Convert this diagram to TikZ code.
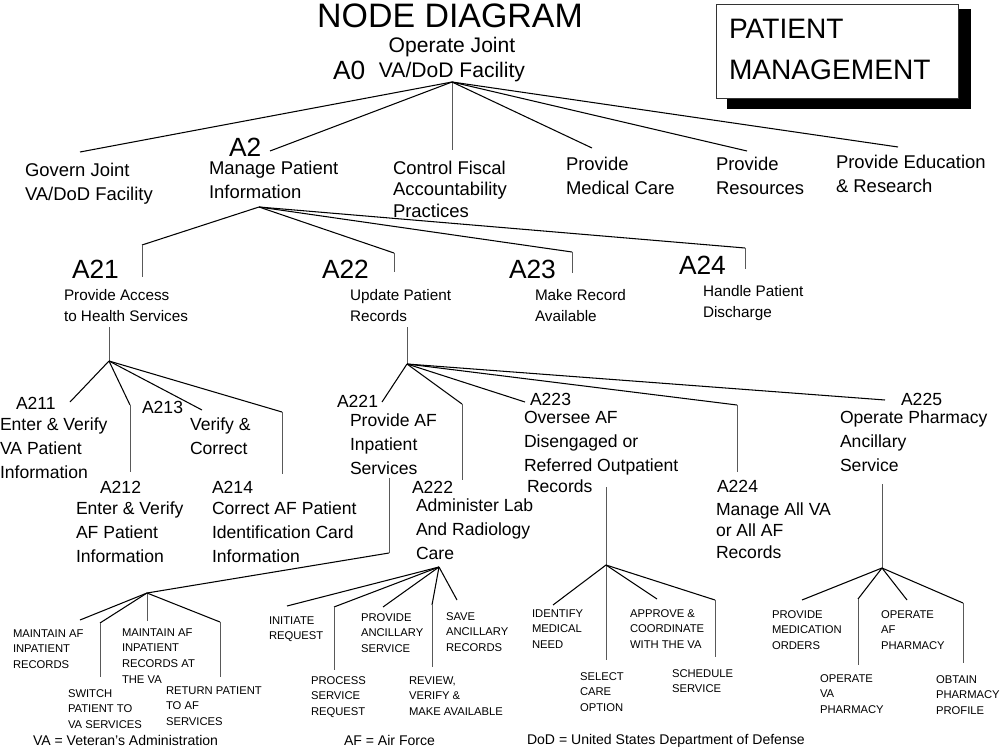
\documentclass[tikz,border=0pt]{standalone}
\usepackage{fontspec}
\setmainfont{Liberation Sans}
\newcommand{\Lines}[1]{\vtop{\halign{##\hfil\cr#1\crcr}}}
\newcommand{\CLines}[1]{\vtop{\halign{\hfil##\hfil\cr#1\crcr}}}
\tikzset{
  lbl/.style={anchor=base west, inner sep=0pt, outer sep=0pt},
  big/.style={lbl, font=\fontsize{15}{18}\selectfont},
  tone/.style={lbl, font=\fontsize{10.5}{13.7}\selectfont},
  ttwo/.style={lbl, font=\fontsize{8.7}{12}\selectfont},
  tthree/.style={lbl, font=\fontsize{10}{13.7}\selectfont},
  tfour/.style={lbl, font=\fontsize{6.4}{9.1}\selectfont},
  note/.style={lbl, font=\fontsize{8}{10}\selectfont},
  ln/.style={line width=0.6pt, black},
  vl/.style={line width=0.45pt, black!65},
}
\begin{document}
\begin{tikzpicture}[x=0.02cm,y=-0.02cm]
\useasboundingbox (0,0) rectangle (1000,750);

% ---------- title and box ----------
\node[anchor=base, inner sep=0pt, font=\fontsize{19.3}{22}\selectfont] (title) at (450,28) {NODE DIAGRAM};
\fill[black] (727,9) rectangle (971,109);
\draw[draw=black!80, fill=white, line width=0.5pt] (716,4) rectangle (958,98);
\node[lbl, font=\fontsize{16}{23.3}\selectfont] (pm) at (729,39) {\Lines{PATIENT\cr MANAGEMENT}};

% ---------- A0 ----------
\node[anchor=base, inner sep=0pt, font=\fontsize{12}{13.7}\selectfont] (a0t) at (452,53) {\CLines{Operate Joint\cr VA/DoD Facility}};
\node[big] (a0) at (333,80) {A0};

% ---------- level 1 ----------
\node[tone] (n1) at (25,176) {\Lines{Govern Joint\cr VA/DoD Facility}};
\node[big] (a2) at (229,156) {A2};
\node[tone] (n2) at (209,174) {\Lines{Manage Patient\cr Information}};
\node[lbl, font=\fontsize{10.5}{12.4}\selectfont] (n3) at (393,174) {\Lines{Control Fiscal\cr Accountability\cr Practices}};
\node[tone] (n4) at (566,170) {\Lines{Provide\cr Medical Care}};
\node[tone] (n5) at (716,170) {\Lines{Provide\cr Resources}};
\node[tone] (n6) at (836,168) {\Lines{Provide Education\cr \& Research}};

\coordinate (r0) at (452,82);
\coordinate (e1) at (80,152);
\coordinate (e2) at (270,151);
\coordinate (e3) at (452,150);
\coordinate (e4) at (592,148);
\coordinate (e5) at (747,151);
\coordinate (e6) at (898,147);
\draw[ln] (r0) -- (e1);
\draw[ln] (r0) -- (e2);
\draw[vl] (r0) -- (e3);
\draw[ln] (r0) -- (e4);
\draw[ln] (r0) -- (e5);
\draw[ln] (r0) -- (e6);

% ---------- level 2 ----------
\node[big] (a21) at (72,278) {A21};
\node[ttwo] (n21) at (64,300) {\Lines{Provide Access\cr to Health Services}};
\node[big] (a22) at (322,278) {A22};
\node[ttwo] (n22) at (350,300) {\Lines{Update Patient\cr Records}};
\node[big] (a23) at (509,278) {A23};
\node[ttwo] (n23) at (535,300) {\Lines{Make Record\cr Available}};
\node[big] (a24) at (679,274) {A24};
\node[ttwo] (n24) at (703,296) {\Lines{Handle Patient\cr Discharge}};

\coordinate (r2) at (259,207);
\coordinate (f21) at (142,245); \coordinate (g21) at (142,277);
\coordinate (f22) at (394,253); \coordinate (g22) at (394,272);
\coordinate (f23) at (572,252); \coordinate (g23) at (572,273);
\coordinate (f24) at (745,248); \coordinate (g24) at (745,269);
\draw[ln] (r2) -- (f21); \draw[vl] (f21) -- (g21);
\draw[ln] (r2) -- (f22); \draw[vl] (f22) -- (g22);
\draw[ln] (r2) -- (f23); \draw[vl] (f23) -- (g23);
\draw[ln] (r2) -- (f24); \draw[vl] (f24) -- (g24);

% ---------- level 3 : A21 ----------
\node[tthree] (a211) at (16,409) {A211};
\node[tthree] (n211) at (0,430) {\Lines{Enter \& Verify\cr VA Patient\cr Information}};
\node[tthree] (a212) at (100,493) {A212};
\node[tthree] (n212) at (76,514) {\Lines{Enter \& Verify\cr AF Patient\cr Information}};
\node[tthree] (a213) at (142,413) {A213};
\node[tthree] (n213) at (190,430) {\Lines{Verify \&\cr Correct}};
\node[tthree] (a214) at (212,493) {A214};
\node[tthree] (n214) at (212,514) {\Lines{Correct AF Patient\cr Identification Card\cr Information}};

\coordinate (t21) at (109,327);
\coordinate (r21) at (109,361);
\coordinate (h211) at (70,402);
\coordinate (h212) at (130,405); \coordinate (k212) at (130,472);
\coordinate (h213) at (202,410);
\coordinate (h214) at (282,412); \coordinate (k214) at (282,474);
\draw[vl] (t21) -- (r21);
\draw[ln] (r21) -- (h211);
\draw[ln] (r21) -- (h212); \draw[vl] (h212) -- (k212);
\draw[ln] (r21) -- (h213);
\draw[ln] (r21) -- (h214); \draw[vl] (h214) -- (k214);

% ---------- level 3 : A22 ----------
\node[tthree] (a221) at (337,407) {A221};
\node[tthree] (n221) at (350,426) {\Lines{Provide AF\cr Inpatient\cr Services}};
\node[tthree] (a222) at (412,493) {A222};
\node[tthree] (n222) at (416,511) {\Lines{Administer Lab\cr And Radiology\cr Care}};
\node[tthree] (a223) at (530,405) {A223};
\node[tthree] (n223) at (524,423) {\Lines{Oversee AF\cr Disengaged or\cr Referred Outpatient}};
\node[tthree] (n223b) at (527,492) {Records};
\node[tthree] (a224) at (717,492) {A224};
\node[lbl, font=\fontsize{10}{12.3}\selectfont] (n224) at (716,515) {\Lines{Manage All VA\cr or All AF\cr Records}};
\node[tthree] (a225) at (901,405) {A225};
\node[tthree] (n225) at (840,423) {\Lines{Operate Pharmacy\cr Ancillary\cr Service}};

\coordinate (t22) at (407,327);
\coordinate (r22) at (407,364);
\coordinate (h221) at (382,402);
\coordinate (h222) at (462,404); \coordinate (k222) at (462,480);
\coordinate (h223) at (525,402);
\coordinate (h224) at (737,405); \coordinate (k224) at (737,472);
\coordinate (h225) at (885,400);
\draw[vl] (t22) -- (r22);
\draw[ln] (r22) -- (h221);
\draw[ln] (r22) -- (h222); \draw[vl] (h222) -- (k222);
\draw[ln] (r22) -- (h223);
\draw[ln] (r22) -- (h224); \draw[vl] (h224) -- (k224);
\draw[ln] (r22) -- (h225);

% ---------- level 4 : A221 ----------
\node[tfour] (m1) at (13,637) {\Lines{MAINTAIN AF\cr INPATIENT\cr RECORDS}};
\node[tfour] (m2) at (122,636) {\Lines{MAINTAIN AF\cr INPATIENT\cr RECORDS AT\cr THE VA}};
\node[tfour] (m3) at (68,697) {\Lines{SWITCH\cr PATIENT TO\cr VA SERVICES}};
\node[tfour] (m4) at (166,694) {\Lines{RETURN PATIENT\cr TO AF\cr SERVICES}};

\coordinate (t221) at (389,478);
\coordinate (u221) at (389,553);
\coordinate (r221) at (147,593);
\coordinate (p1) at (80,620);
\coordinate (p3) at (100,623); \coordinate (q3) at (100,677);
\coordinate (p2) at (147,621);
\coordinate (p4) at (220,622); \coordinate (q4) at (220,677);
\draw[vl] (t221) -- (u221);
\draw[ln] (u221) -- (r221);
\draw[ln] (r221) -- (p1);
\draw[ln] (r221) -- (p3); \draw[vl] (p3) -- (q3);
\draw[vl] (r221) -- (p2);
\draw[ln] (r221) -- (p4); \draw[vl] (p4) -- (q4);

% ---------- level 4 : A222 ----------
\node[tfour] (s1) at (269,624) {\Lines{INITIATE\cr REQUEST}};
\node[tfour] (s2) at (311,684) {\Lines{PROCESS\cr SERVICE\cr REQUEST}};
\node[tfour] (s3) at (361,621) {\Lines{PROVIDE\cr ANCILLARY\cr SERVICE}};
\node[tfour] (s4) at (409,684) {\Lines{REVIEW,\cr VERIFY \&\cr MAKE AVAILABLE}};
\node[tfour] (s5) at (446,620) {\Lines{SAVE\cr ANCILLARY\cr RECORDS}};

\coordinate (r222) at (439,567);
\coordinate (v1) at (287,606);
\coordinate (v2) at (334,607); \coordinate (w2) at (334,670);
\coordinate (v3) at (383,607);
\coordinate (v4) at (432,605); \coordinate (w4) at (432,667);
\coordinate (v5) at (457,600);
\draw[ln] (r222) -- (v1);
\draw[ln] (r222) -- (v2); \draw[vl] (v2) -- (w2);
\draw[ln] (r222) -- (v3);
\draw[ln] (r222) -- (v4); \draw[vl] (v4) -- (w4);
\draw[ln] (r222) -- (v5);

% ---------- level 4 : A223 ----------
\node[tfour] (o1) at (532,617) {\Lines{IDENTIFY\cr MEDICAL\cr NEED}};
\node[tfour] (o2) at (580,680) {\Lines{SELECT\cr CARE\cr OPTION}};
\node[tfour] (o3) at (630,617) {\Lines{APPROVE \&\cr COORDINATE\cr WITH THE VA}};
\node[tfour] (o4) at (672,677) {\Lines{SCHEDULE\cr SERVICE}};

\coordinate (t223) at (606,487);
\coordinate (r223) at (606,565);
\coordinate (x1) at (553,605);
\coordinate (x2) at (606,660);
\coordinate (x3) at (657,599);
\coordinate (x4) at (715,600); \coordinate (y4) at (715,657);
\draw[vl] (t223) -- (r223);
\draw[ln] (r223) -- (x1);
\draw[vl] (r223) -- (x2);
\draw[ln] (r223) -- (x3);
\draw[ln] (r223) -- (x4); \draw[vl] (x4) -- (y4);

% ---------- level 4 : A225 ----------
\node[tfour] (c1) at (772,618) {\Lines{PROVIDE\cr MEDICATION\cr ORDERS}};
\node[tfour] (c2) at (820,682) {\Lines{OPERATE\cr VA\cr PHARMACY}};
\node[tfour] (c3) at (881,618) {\Lines{OPERATE\cr AF\cr PHARMACY}};
\node[tfour] (c4) at (936,683) {\Lines{OBTAIN\cr PHARMACY\cr PROFILE}};

\coordinate (t225) at (882,484);
\coordinate (r225) at (882,568);
\coordinate (z1) at (802,600);
\coordinate (z2) at (858,599); \coordinate (zz2) at (858,665);
\coordinate (z3) at (907,600);
\coordinate (z4) at (963,603); \coordinate (zz4) at (963,663);
\draw[vl] (t225) -- (r225);
\draw[ln] (r225) -- (z1);
\draw[ln] (r225) -- (z2); \draw[vl] (z2) -- (zz2);
\draw[ln] (r225) -- (z3);
\draw[ln] (r225) -- (z4); \draw[vl] (z4) -- (zz4);

% ---------- footer ----------
\node[note] (f1) at (33,745) {VA = Veteran's Administration};
\node[note] (f2) at (344,745) {AF = Air Force};
\node[note] (f3) at (527,744) {DoD = United States Department of Defense};
\end{tikzpicture}
\end{document}
